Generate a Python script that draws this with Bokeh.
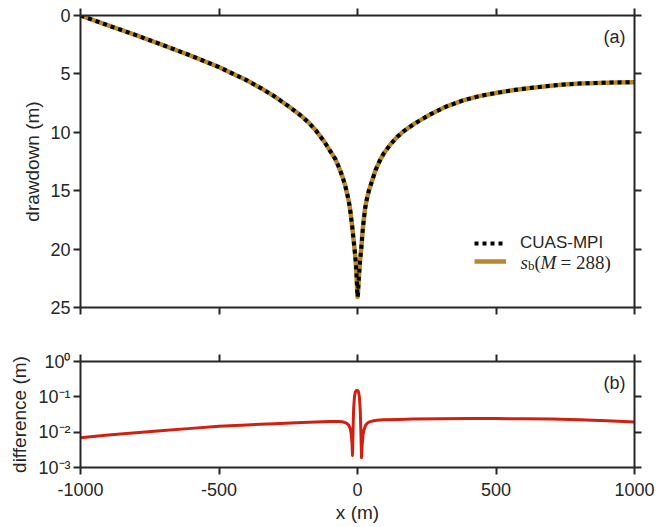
from bokeh.plotting import figure
from bokeh.layouts import column
from bokeh.models import (Range1d, LinearAxis, LogAxis, FixedTicker, Label,
                          Legend, LegendItem, CustomJSTickFormatter)
from bokeh.embed import file_html
from bokeh.resources import INLINE

# ---------------- data ----------------
x_m = [-1000, -900, -800, -700, -600, -500, -400, -350, -300, -250, -200, -175,
       -150, -120, -100, -80, -67, -55, -45, -36, -30, -25, -19, -15, -12, -9,
       -7, -5, -3, -1.5, 0, 1.5, 3, 5, 7, 9, 11, 14, 17, 20, 23, 27, 32, 41, 52,
       65, 80, 95, 120, 143, 170, 203, 235, 264, 320, 384, 440, 504, 560, 625,
       690, 745, 800, 866, 930, 1000]
s_cuas = [0.0, 0.85, 1.68, 2.55, 3.45, 4.42, 5.55, 6.2, 6.92, 7.75, 8.65, 9.2,
          9.85, 10.8, 11.55, 12.3, 13.0, 13.75, 14.5, 15.4, 16.1, 16.9, 18.1,
          19.0, 19.7, 20.4, 20.9, 21.6, 22.5, 23.3, 24.1, 23.9, 23.2, 22.4, 21.7,
          21.1, 20.6, 19.8, 18.9, 18.1, 17.4, 16.6, 15.9, 15.0, 14.2, 13.25,
          12.45, 11.8, 11.0, 10.4, 9.85, 9.3, 8.85, 8.45, 7.8, 7.25, 6.9, 6.62,
          6.4, 6.2, 6.03, 5.91, 5.83, 5.77, 5.73, 5.71]
s_b = [0.0, 0.85, 1.68, 2.55, 3.45, 4.42, 5.55, 6.2, 6.92, 7.75, 8.65, 9.2,
       9.85, 10.8, 11.55, 12.3, 13.0, 13.75, 14.5, 15.4, 16.1, 16.9, 18.1,
       19.0, 19.7, 20.4, 20.9, 21.6, 22.5, 23.3, 24.1, 23.9, 23.2, 22.4, 21.7,
       21.1, 20.6, 19.8, 18.9, 18.1, 17.4, 16.6, 15.9, 15.0, 14.2, 13.25,
       12.45, 11.8, 11.0, 10.4, 9.85, 9.3, 8.85, 8.45, 7.8, 7.25, 6.9, 6.62,
       6.4, 6.2, 6.03, 5.91, 5.83, 5.77, 5.73, 5.71]

x_diff = [-1000, -900, -800, -700, -600, -500, -400, -300, -200, -100, -70, -55,
          -49, -40, -31, -26, -23, -20, -18, -16, -14, -11, -8, -5, -2, 1, 4, 7,
          10, 12, 14.5, 17, 20, 23, 28, 34, 41, 55, 70, 95, 150, 200, 300, 400,
          500, 600, 700, 800, 900, 1000]
diff = [0.0070, 0.0083, 0.0097, 0.0111, 0.0128, 0.0146, 0.0160, 0.0174, 0.0187,
        0.0199, 0.0199, 0.0196, 0.0192, 0.0180, 0.0155, 0.0125, 0.0091, 0.0050,
        0.0022, 0.012, 0.045, 0.10, 0.135, 0.150, 0.152, 0.150, 0.135, 0.095,
        0.040, 0.012, 0.0019, 0.0045, 0.0085, 0.0112, 0.0150, 0.0175, 0.0193,
        0.0208, 0.0216, 0.0223, 0.0230, 0.0234, 0.0239, 0.0242, 0.0242, 0.0240,
        0.0234, 0.0225, 0.0211, 0.0193]

x_ticks = [-1000, -500, 0, 500, 1000]
x_tick_labels = ["-1000", "-500", "0", "500", "1000"]
s_ticks = [0, 5, 10, 15, 20, 25]
d_ticks = [0.001, 0.01, 0.1, 1]

# ---------------- style ----------------
FONT = "Liberation Sans"
SERIF = "Liberation Serif"
INK = "#262626"
GOLD = "#B7872F"
RED = "#D22010"
TICK_FS = "18px"

def style_axis(ax, ticks, show_labels=True):
    ax.ticker = FixedTicker(ticks=ticks)
    ax.axis_line_color = INK
    ax.axis_line_width = 2
    ax.major_tick_line_color = INK
    ax.major_tick_line_width = 2
    ax.major_tick_in = 0
    ax.major_tick_out = 7
    ax.minor_tick_line_color = None
    ax.major_label_text_font = FONT
    ax.major_label_text_color = INK
    ax.major_label_text_font_size = TICK_FS
    ax.axis_label_text_font = FONT
    ax.axis_label_text_font_style = "normal"
    ax.axis_label_text_color = INK
    ax.axis_label_text_font_size = "19px"
    ax.major_label_standoff = 3
    if not show_labels:
        ax.major_label_text_color = None
        ax.major_label_standoff = 0

x_over = {t: l for t, l in zip(x_ticks, x_tick_labels)}

# ---------------- panel (a) ----------------
p1 = figure(width=656, height=317, x_range=Range1d(-1000, 1000),
            y_range=Range1d(25, 0), output_backend="svg", toolbar_location=None,
            min_border_left=80, min_border_right=22, min_border_top=15,
            min_border_bottom=10)
p1.outline_line_color = None
p1.grid.visible = False

style_axis(p1.xaxis[0], x_ticks, show_labels=False)
style_axis(p1.yaxis[0], s_ticks)
p1.yaxis[0].axis_label = "drawdown (m)"
p1.yaxis[0].axis_label_standoff = 4
ax_top = LinearAxis()
style_axis(ax_top, x_ticks, show_labels=False)
p1.add_layout(ax_top, "above")
ax_r = LinearAxis()
style_axis(ax_r, s_ticks, show_labels=False)
p1.add_layout(ax_r, "right")

r_sb = p1.line(x_m, s_b, line_color=GOLD, line_width=4.5, line_join="round")
r_cuas = p1.line(x_m, s_cuas, line_color="black", line_width=4,
                 line_dash="4 4", line_cap="butt")

legend = Legend(items=[LegendItem(label="CUAS-MPI", renderers=[r_cuas]),
                       LegendItem(label=" ", renderers=[r_sb])],
                location=(394, 38), padding=0, margin=0, spacing=0,
                glyph_width=32, glyph_height=16, label_height=16,
                label_standoff=14,
                label_text_font=FONT, label_text_font_size="17px",
                label_text_color=INK, border_line_color=None,
                background_fill_alpha=0)
p1.add_layout(legend)

# helpers: page pixel -> data coordinates of panel (a), for placing texts
def ax_x(px):
    return -1000 + (px - 80) * 2000 / 554

def ax_y(py):
    return (py - 15) * 25 / 292

p1.add_layout(Label(x=ax_x(625), y=ax_y(36), text="(a)", text_align="right",
                    text_baseline="middle", text_font=FONT,
                    text_font_size="18px", text_color=INK))

# math-style legend label  s_b(M = 288)
BASE = 261.5
p1.add_layout(Label(x=ax_x(520), y=ax_y(BASE), text="s", text_font=SERIF,
                    text_font_style="italic", text_font_size="19px",
                    text_color=INK, text_baseline="alphabetic"))
p1.add_layout(Label(x=ax_x(527.5), y=ax_y(BASE + 3.5), text="b",
                    text_font=SERIF, text_font_size="13px", text_color=INK,
                    text_baseline="alphabetic"))
p1.add_layout(Label(x=ax_x(534), y=ax_y(BASE), text="(", text_font=SERIF,
                    text_font_size="19px", text_color=INK,
                    text_baseline="alphabetic"))
p1.add_layout(Label(x=ax_x(540), y=ax_y(BASE), text="M", text_font=SERIF,
                    text_font_style="italic", text_font_size="19px",
                    text_color=INK, text_baseline="alphabetic"))
p1.add_layout(Label(x=ax_x(560), y=ax_y(BASE), text="= 288)", text_font=SERIF,
                    text_font_size="19px", text_color=INK,
                    text_baseline="alphabetic"))

# ---------------- panel (b) ----------------
p2 = figure(width=656, height=210, x_range=p1.x_range,
            y_range=Range1d(1e-3, 1), y_axis_type="log",
            output_backend="svg", toolbar_location=None,
            min_border_left=80, min_border_right=22, min_border_top=44,
            min_border_bottom=60)
p2.outline_line_color = None
p2.grid.visible = False

style_axis(p2.xaxis[0], x_ticks)
p2.xaxis[0].major_label_overrides = x_over
p2.xaxis[0].axis_label = "x (m)"
p2.xaxis[0].major_label_standoff = 8
p2.xaxis[0].axis_label_standoff = 3

sup_js = """
const m = {'-':'\u207b','0':'\u2070','1':'\u00b9','2':'\u00b2','3':'\u00b3',
           '4':'\u2074','5':'\u2075','6':'\u2076','7':'\u2077','8':'\u2078','9':'\u2079'};
const e = Math.round(Math.log10(tick));
return '10' + String(e).split('').map(c => m[c]).join('');
"""
style_axis(p2.yaxis[0], d_ticks)
p2.yaxis[0].formatter = CustomJSTickFormatter(code=sup_js)
p2.yaxis[0].axis_label = "difference (m)"
p2.yaxis[0].axis_label_standoff = 5

ax_top2 = LinearAxis()
style_axis(ax_top2, x_ticks, show_labels=False)
p2.add_layout(ax_top2, "above")
ax_r2 = LogAxis()
style_axis(ax_r2, d_ticks, show_labels=False)
p2.add_layout(ax_r2, "right")

p2.line(x_diff, diff, line_color=RED, line_width=3, line_join="round")

p2.add_layout(Label(x=ax_x(625), y=0.244, text="(b)", text_align="right",
                    text_baseline="middle", text_font=FONT,
                    text_font_size="18px", text_color=INK))

layout = column(p1, p2, spacing=0)
open("out.html", "w").write(file_html(layout, INLINE))
